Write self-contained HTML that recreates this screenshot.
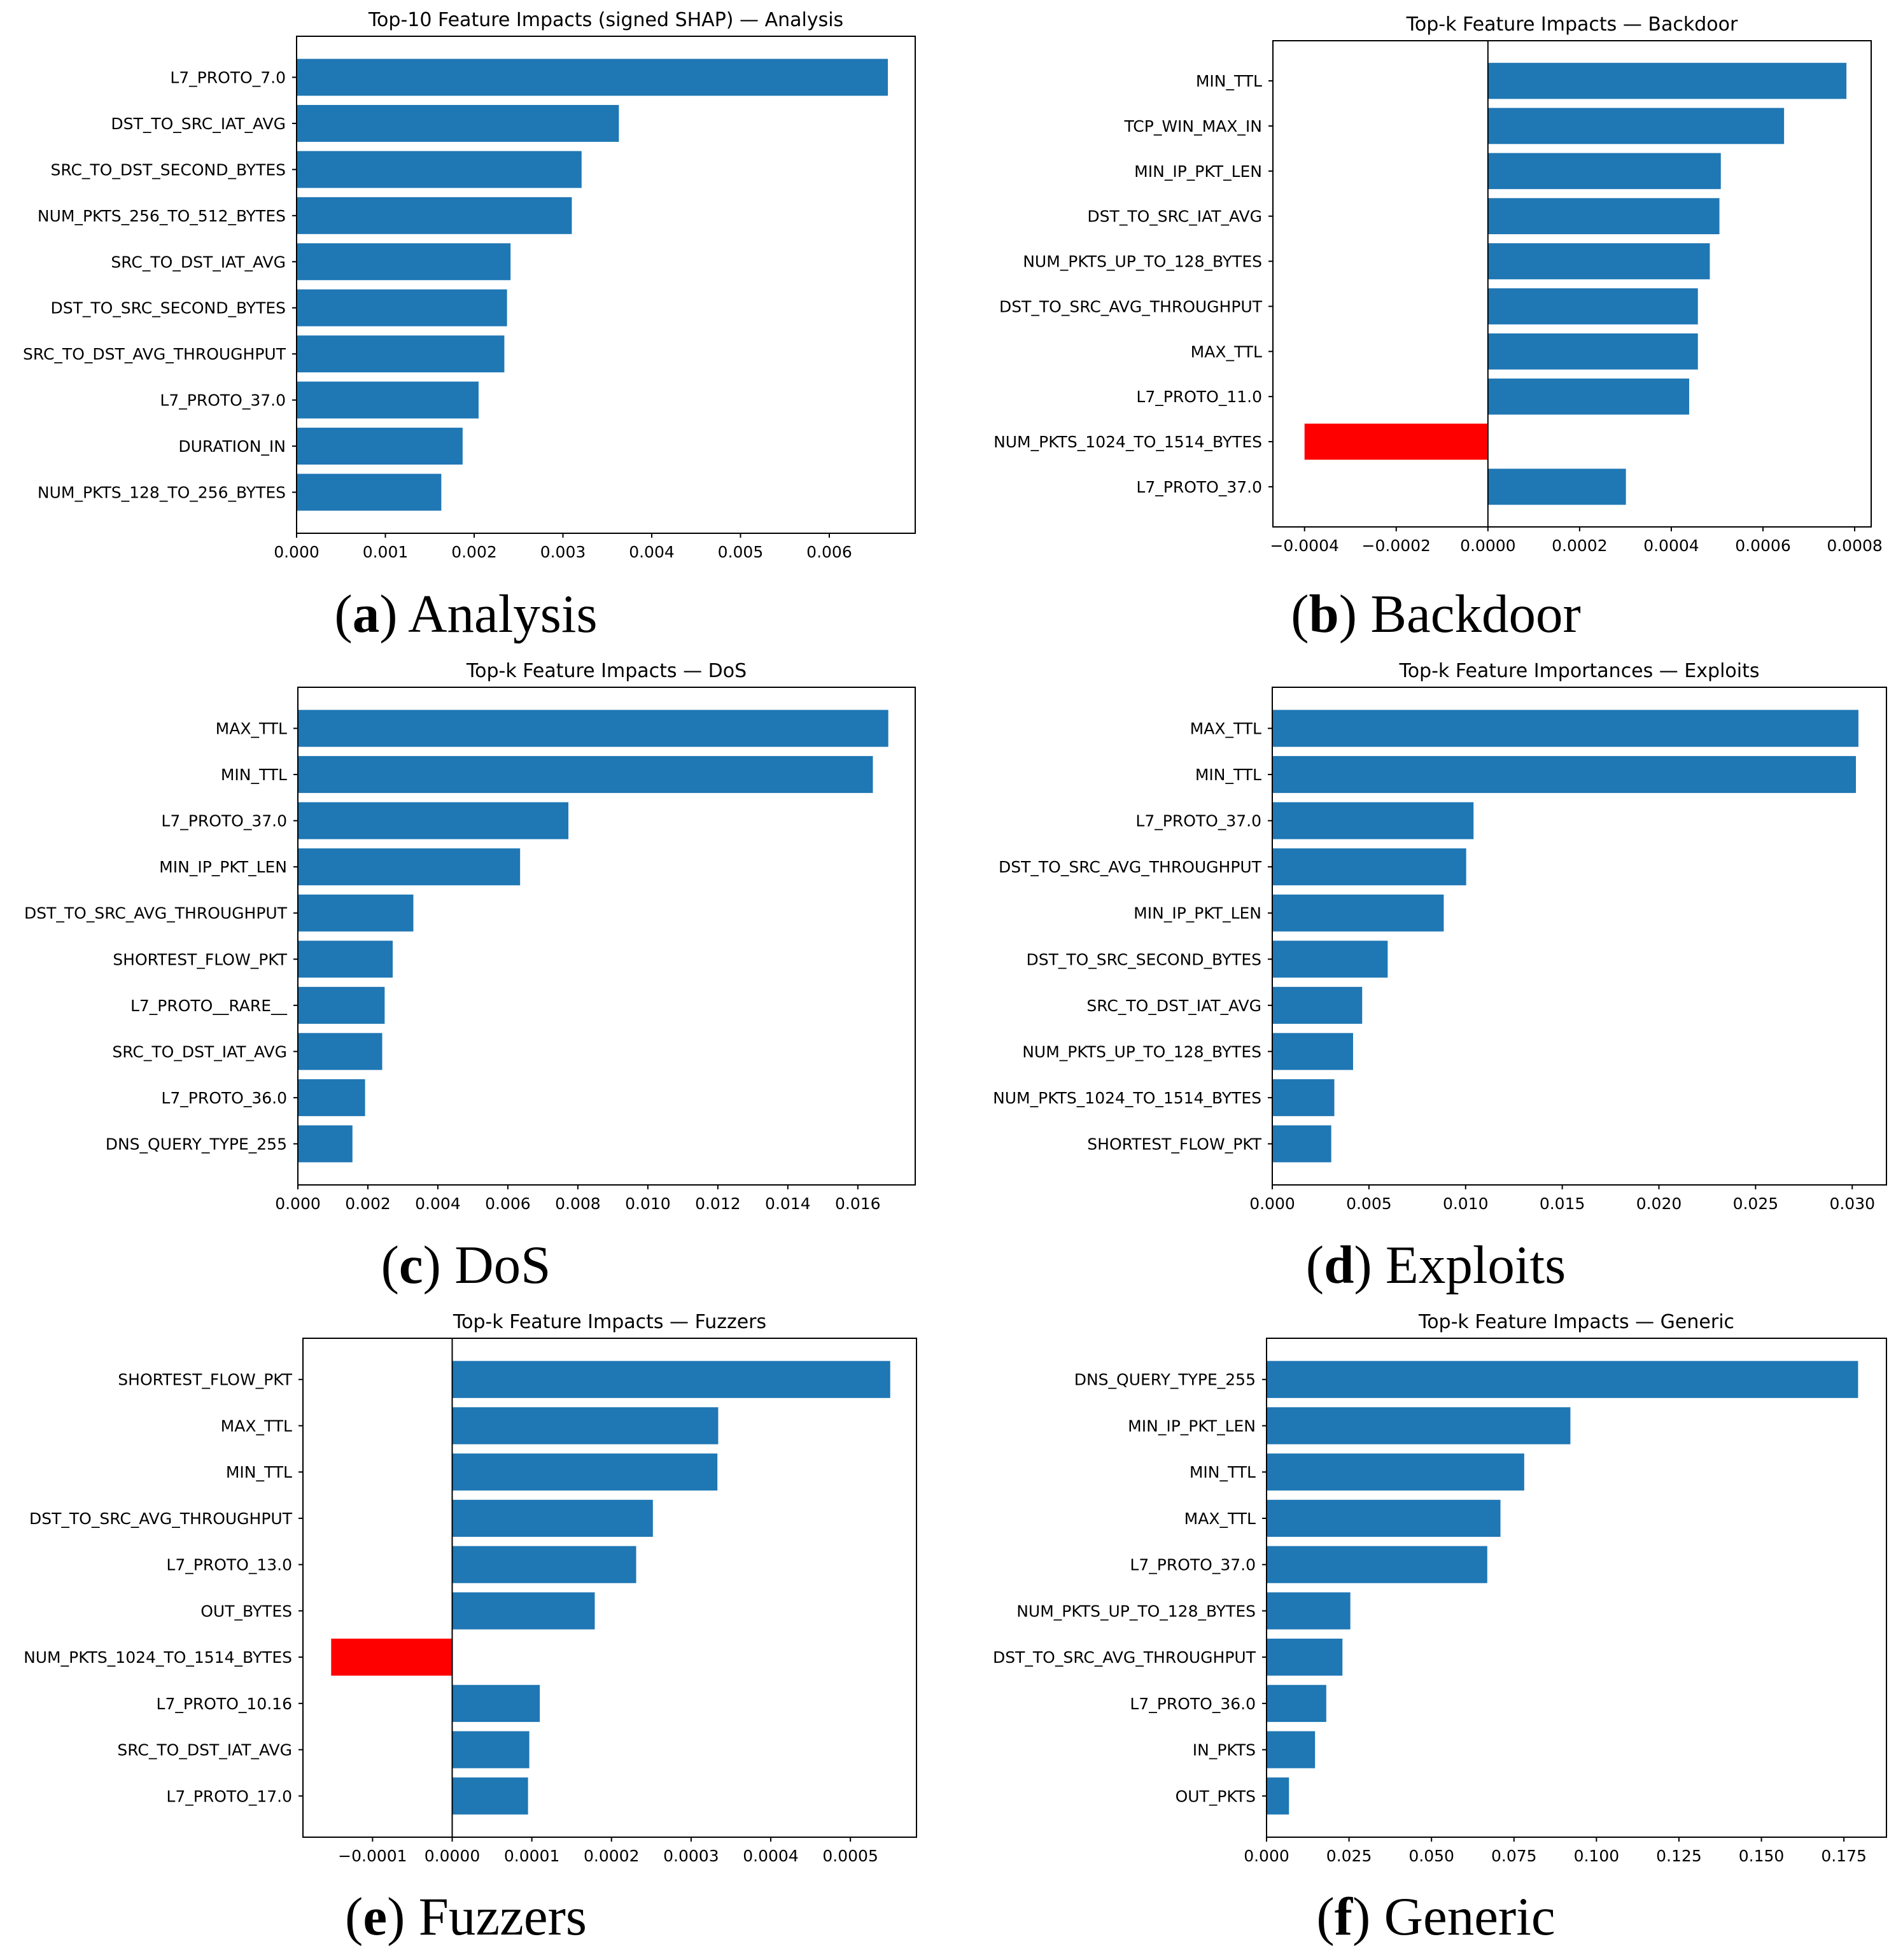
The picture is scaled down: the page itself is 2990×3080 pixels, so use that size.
<!DOCTYPE html>
<html><head><meta charset="utf-8"><style>
html,body{margin:0;padding:0;background:#fff}
svg{display:block}
text{font-family:"DejaVu Sans","Liberation Sans",sans-serif;fill:#000}
.cap{font-family:"Liberation Serif",serif;font-size:85px}
</style></head><body>
<svg id="fig" width="2990" height="3080" viewBox="0 0 2990 3080" xmlns="http://www.w3.org/2000/svg"></svg>
<script>
const catsA=["L7_PROTO_7.0","DST_TO_SRC_IAT_AVG","SRC_TO_DST_SECOND_BYTES","NUM_PKTS_256_TO_512_BYTES","SRC_TO_DST_IAT_AVG","DST_TO_SRC_SECOND_BYTES","SRC_TO_DST_AVG_THROUGHPUT","L7_PROTO_37.0","DURATION_IN","NUM_PKTS_128_TO_256_BYTES"];
const valsA=[0.00666,0.00363,0.00321,0.0031,0.00241,0.00237,0.00234,0.00205,0.00187,0.00163];
const ticksA=[0,0.001,0.002,0.003,0.004,0.005,0.006];
const tickLabelsA=["0.000","0.001","0.002","0.003","0.004","0.005","0.006"];

const catsB=["MIN_TTL","TCP_WIN_MAX_IN","MIN_IP_PKT_LEN","DST_TO_SRC_IAT_AVG","NUM_PKTS_UP_TO_128_BYTES","DST_TO_SRC_AVG_THROUGHPUT","MAX_TTL","L7_PROTO_11.0","NUM_PKTS_1024_TO_1514_BYTES","L7_PROTO_37.0"];
const valsB=[0.000782,0.000646,0.000508,0.000505,0.000484,0.000458,0.000458,0.000439,-0.0004,0.000301];
const ticksB=[-0.0004,-0.0002,0,0.0002,0.0004,0.0006,0.0008];
const tickLabelsB=["\u22120.0004","\u22120.0002","0.0000","0.0002","0.0004","0.0006","0.0008"];

const catsC=["MAX_TTL","MIN_TTL","L7_PROTO_37.0","MIN_IP_PKT_LEN","DST_TO_SRC_AVG_THROUGHPUT","SHORTEST_FLOW_PKT","L7_PROTO__RARE__","SRC_TO_DST_IAT_AVG","L7_PROTO_36.0","DNS_QUERY_TYPE_255"];
const valsC=[0.01687,0.01643,0.00773,0.00635,0.0033,0.00271,0.00248,0.00241,0.00192,0.00156];
const ticksC=[0,0.002,0.004,0.006,0.008,0.010,0.012,0.014,0.016];
const tickLabelsC=["0.000","0.002","0.004","0.006","0.008","0.010","0.012","0.014","0.016"];

const catsD=["MAX_TTL","MIN_TTL","L7_PROTO_37.0","DST_TO_SRC_AVG_THROUGHPUT","MIN_IP_PKT_LEN","DST_TO_SRC_SECOND_BYTES","SRC_TO_DST_IAT_AVG","NUM_PKTS_UP_TO_128_BYTES","NUM_PKTS_1024_TO_1514_BYTES","SHORTEST_FLOW_PKT"];
const valsD=[0.03032,0.03019,0.01041,0.01003,0.00887,0.00597,0.00465,0.00418,0.00321,0.00305];
const ticksD=[0,0.005,0.010,0.015,0.020,0.025,0.030];
const tickLabelsD=["0.000","0.005","0.010","0.015","0.020","0.025","0.030"];

const catsE=["SHORTEST_FLOW_PKT","MAX_TTL","MIN_TTL","DST_TO_SRC_AVG_THROUGHPUT","L7_PROTO_13.0","OUT_BYTES","NUM_PKTS_1024_TO_1514_BYTES","L7_PROTO_10.16","SRC_TO_DST_IAT_AVG","L7_PROTO_17.0"];
const valsE=[0.00055,0.000334,0.000333,0.000252,0.000231,0.000179,-0.000152,0.00011,0.0000968,0.0000952];
const ticksE=[-0.0001,0,0.0001,0.0002,0.0003,0.0004,0.0005];
const tickLabelsE=["\u22120.0001","0.0000","0.0001","0.0002","0.0003","0.0004","0.0005"];

const catsF=["DNS_QUERY_TYPE_255","MIN_IP_PKT_LEN","MIN_TTL","MAX_TTL","L7_PROTO_37.0","NUM_PKTS_UP_TO_128_BYTES","DST_TO_SRC_AVG_THROUGHPUT","L7_PROTO_36.0","IN_PKTS","OUT_PKTS"];
const valsF=[0.1793,0.0921,0.0781,0.0709,0.0669,0.0254,0.0230,0.0181,0.0147,0.0068];
const ticksF=[0,0.025,0.05,0.075,0.1,0.125,0.15,0.175];
const tickLabelsF=["0.000","0.025","0.050","0.075","0.100","0.125","0.150","0.175"];

const NS="http://www.w3.org/2000/svg";
const svg=document.getElementById('fig');
function mk(tag,attrs,parent){const e=document.createElementNS(NS,tag);for(const k in attrs)e.setAttribute(k,attrs[k]);(parent||svg).appendChild(e);return e;}

function panel(id,p){
  const g=mk('g',{});
  
  
  const L=p.left,R=p.right,T=p.top,B=p.bottom;
  const xs=v=>L+(v-p.xmin)/(p.xmax-p.xmin)*(R-L);
  const n=p.cats.length;
  const unit=(B-T)/((n-1)+0.8+0.1*((n-1)+0.8));
  const yc=i=>T+unit*(0.4+0.05*((n-1)+0.8))+i*unit;
  const bh=0.8*unit;
  for(let i=0;i<n;i++){
    const v=p.vals[i];
    const x0=xs(Math.min(0,v)),x1=xs(Math.max(0,v));
    const r=mk('rect',{x:x0,y:yc(i)-bh/2,width:x1-x0,height:bh,fill:v<0?'#ff0000':'#1f77b4'},g);
    
    
    mk('line',{x1:L-7,x2:L,y1:yc(i),y2:yc(i),stroke:'#000','stroke-width':2},g);
    const t=mk('text',{x:L-17,y:yc(i)+9,'text-anchor':'end','font-size':25},g);
    t.textContent=p.cats[i];
    
    
  }
  if(p.zeroLine){
    const zl=mk('line',{x1:xs(0),x2:xs(0),y1:T,y2:B,stroke:'#000','stroke-width':2},g);
    
    
  }
  p.ticks.forEach((tv,k)=>{
    mk('line',{x1:xs(tv),x2:xs(tv),y1:B,y2:B+7,stroke:'#000','stroke-width':2},g);
    const t=mk('text',{x:xs(tv),y:B+38,'text-anchor':'middle','font-size':25},g);
    t.textContent=p.tickLabels[k];
    
    
  });
  const fr=mk('rect',{x:L,y:T,width:R-L,height:B-T,fill:'none',stroke:'#000','stroke-width':2},g);
  
  
  const tt=mk('text',{x:(L+R)/2,y:T-16,'text-anchor':'middle','font-size':30},g);
  tt.textContent=p.title;
  
  
  const cp=mk('text',{x:p.capX,y:p.capY,'text-anchor':'middle','class':'cap'},g);
  cp.innerHTML='(<tspan font-weight="bold">'+p.capL+'</tspan>) '+p.capT;
  
  
}

panel('analysis',{cats:catsA,vals:valsA,ticks:ticksA,tickLabels:tickLabelsA,left:466,right:1438,top:57,bottom:838,xmin:0,xmax:0.006968,title:"Top-10 Feature Impacts (signed SHAP) \u2014 Analysis",capX:732,capY:993,capL:'a',capT:'Analysis'});
panel('backdoor',{cats:catsB,vals:valsB,ticks:ticksB,tickLabels:tickLabelsB,left:2000,right:2940,top:64,bottom:828,xmin:-0.000469,xmax:0.000836,zeroLine:true,title:"Top-k Feature Impacts \u2014 Backdoor",capX:2256,capY:993,capL:'b',capT:'Backdoor'});
panel('dos',{cats:catsC,vals:valsC,ticks:ticksC,tickLabels:tickLabelsC,left:468,right:1438,top:1080,bottom:1862,xmin:0,xmax:0.01764,title:"Top-k Feature Impacts \u2014 DoS",capX:732,capY:2016,capL:'c',capT:'DoS'});
panel('exploits',{cats:catsD,vals:valsD,ticks:ticksD,tickLabels:tickLabelsD,left:1999,right:2964,top:1080,bottom:1862,xmin:0,xmax:0.03177,title:"Top-k Feature Importances \u2014 Exploits",capX:2256,capY:2016,capL:'d',capT:'Exploits'});
panel('fuzzers',{cats:catsE,vals:valsE,ticks:ticksE,tickLabels:tickLabelsE,left:476,right:1440,top:2103,bottom:2887,xmin:-0.0001874,xmax:0.000583,zeroLine:true,title:"Top-k Feature Impacts \u2014 Fuzzers",capX:732,capY:3040,capL:'e',capT:'Fuzzers'});
panel('generic',{cats:catsF,vals:valsF,ticks:ticksF,tickLabels:tickLabelsF,left:1990,right:2964,top:2103,bottom:2887,xmin:0,xmax:0.1879,title:"Top-k Feature Impacts \u2014 Generic",capX:2256,capY:3040,capL:'f',capT:'Generic'});
</script>
</body></html>
